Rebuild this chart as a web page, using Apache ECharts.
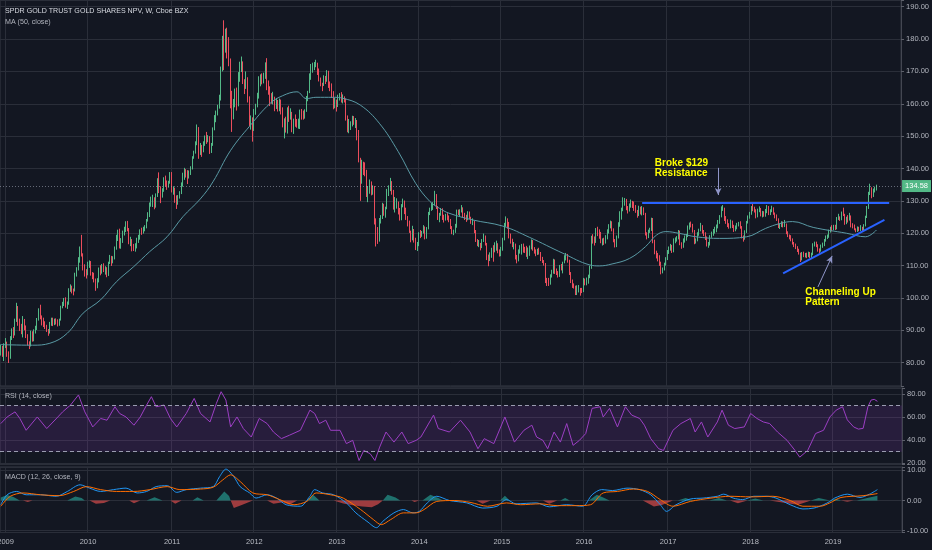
<!DOCTYPE html>
<html><head><meta charset="utf-8">
<script src="https://cdn.jsdelivr.net/npm/echarts@6/dist/echarts.min.js"></script>
<style>html,body{margin:0;padding:0;background:#131722;}#c{width:932px;height:550px;}</style>
</head><body><div id="c"></div>
<script>
// ---- data (weekly bars, week 0 = 2008-12-12) ----
const weekCount = 569;
const yearLabels = ['2009','2010','2011','2012','2013','2014','2015','2016','2017','2018','2019'];
const yearStarts = [3,55,108,160,212,264,316,368,421,473,525];
const lastPrice = 134.58;
// [open, close, low, high]
const candles = [
[83.0,84.6,82.2,85.6],[84.6,83.2,81.8,85.2],[83.2,85.4,80.5,86.0],[85.4,86.2,84.5,87.6],[86.2,82.6,81.8,86.5],[82.6,81.9,79.9,83.5],[81.9,87.8,81.2,88.2],[87.8,89.8,87.0,90.6],[89.8,88.9,87.6,91.0],[88.9,92.9,88.4,93.6],
[92.9,97.3,92.6,98.5],[97.3,92.3,91.4,97.5],[92.3,91.5,89.8,93.6],[91.5,90.2,88.8,92.0],[90.2,93.2,87.8,94.4],[93.2,90.8,90.0,93.5],[90.8,88.5,87.6,91.5],[88.5,85.9,85.3,88.8],[85.9,85.2,84.2,86.6],[85.2,89.6,85.0,89.9],
[89.6,87.0,86.5,89.7],[87.0,89.9,86.6,90.3],[89.9,90.5,89.0,91.4],[90.5,93.3,90.1,93.8],[93.3,96.4,93.0,96.8],[96.4,94.2,93.4,97.9],[94.2,93.1,91.5,94.6],[93.1,91.8,91.0,93.9],[91.8,91.2,90.4,92.8],[91.2,89.9,89.5,91.7],
[89.9,89.4,88.3,90.4],[89.4,92.1,89.0,92.6],[92.1,93.5,91.4,93.9],[93.5,92.2,91.3,93.9],[92.2,93.0,91.6,93.6],[93.0,92.5,91.8,93.7],[92.5,92.0,91.2,93.4],[92.0,93.2,91.4,93.6],[93.2,97.3,93.0,97.6],[97.3,98.1,96.8,98.8],
[98.1,99.6,97.5,100.0],[99.6,97.9,97.0,100.2],[97.9,98.0,96.6,98.9],[98.0,102.5,97.9,103.0],[102.5,103.0,101.9,104.2],[103.0,102.3,101.4,103.8],[102.3,102.2,100.8,102.9],[102.2,107.4,102.0,107.8],[107.4,109.0,106.6,109.5],[109.0,111.7,108.5,112.6],
[111.7,115.4,110.9,115.9],[115.4,113.6,112.8,119.5],[113.6,109.2,108.5,113.8],[109.2,108.3,106.6,110.4],[108.3,107.6,106.0,108.9],[107.6,110.4,107.0,111.2],[110.4,110.7,109.3,111.6],[110.7,107.3,106.9,111.4],[107.3,106.7,105.8,108.0],[106.7,105.9,104.8,107.8],
[105.9,103.5,102.2,106.0],[103.5,105.2,103.0,106.1],[105.2,109.0,104.8,109.4],[109.0,108.1,107.0,110.1],[108.1,110.0,107.5,110.5],[110.0,108.7,108.0,110.7],[108.7,109.0,107.2,109.8],[109.0,107.1,106.4,109.5],[107.1,110.9,106.8,111.2],[110.9,112.8,110.5,113.3],
[112.8,111.4,109.9,113.0],[111.4,112.3,110.7,112.9],[112.3,115.4,111.9,115.9],[115.4,118.9,114.9,119.5],[118.9,120.6,117.6,121.1],[120.6,115.9,115.3,121.4],[115.9,117.7,115.2,118.5],[117.7,119.9,117.0,120.8],[119.9,120.8,119.3,122.0],[120.8,123.0,120.4,123.7],
[123.0,121.3,120.6,123.8],[121.3,117.5,116.6,121.6],[117.5,117.8,116.0,118.9],[117.8,115.9,114.4,118.2],[115.9,115.5,114.5,116.7],[115.5,115.9,114.3,116.9],[115.9,117.9,115.3,118.6],[117.9,118.3,117.0,119.5],[118.3,120.8,118.0,121.2],[120.8,120.2,119.5,121.7],
[120.2,121.5,119.9,122.0],[121.5,121.8,120.6,122.5],[121.8,124.0,121.5,124.4],[124.0,125.4,123.6,126.5],[125.4,129.0,125.0,129.5],[129.0,130.3,128.2,131.3],[130.3,130.7,128.1,131.9],[130.7,128.6,127.4,131.1],[128.6,131.7,127.9,132.3],[131.7,136.4,131.2,137.0],
[136.4,133.3,132.4,138.8],[133.3,131.9,129.3,134.5],[131.9,133.2,131.0,133.9],[133.2,136.1,132.8,137.3],[136.1,135.9,134.4,137.8],[135.9,134.5,133.4,136.3],[134.5,135.6,134.1,136.2],[135.6,138.7,135.3,138.9],[138.7,133.4,132.6,138.9],[133.4,133.6,131.9,134.5],
[133.6,130.0,129.4,134.1],[130.0,129.4,127.5,131.7],[129.4,131.2,128.8,131.8],[131.2,132.6,130.7,133.0],[132.6,135.2,132.1,135.7],[135.2,137.0,134.4,138.7],[137.0,139.1,136.5,140.2],[139.1,138.8,137.2,139.8],[138.8,137.4,135.2,139.5],[137.4,138.7,136.9,139.4],
[138.7,140.0,138.0,140.7],[140.0,143.4,139.7,143.8],[143.4,145.0,143.0,145.5],[145.0,147.5,144.6,148.4],[147.5,152.4,147.2,153.6],[152.4,144.4,143.0,152.8],[144.4,145.9,144.2,147.9],[145.9,145.6,143.6,147.3],[145.6,148.1,145.0,148.4],[148.1,149.1,147.0,150.2],
[149.1,148.9,147.6,151.3],[148.9,149.9,148.1,150.3],[149.9,145.1,144.5,150.0],[145.1,147.4,144.8,147.9],[147.4,152.3,147.0,152.7],[152.3,155.0,151.8,156.5],[155.0,157.2,154.3,157.9],[157.2,159.3,156.4,159.7],[159.3,161.4,158.5,162.8],[161.4,170.6,161.0,171.5],
[170.6,180.3,170.0,181.0],[180.3,176.5,170.4,185.8],[176.5,182.5,175.8,183.2],[182.5,180.0,174.0,183.5],[180.0,173.0,171.6,180.6],[173.0,159.9,158.6,174.0],[159.9,158.4,151.3,164.0],[158.4,160.1,155.2,161.5],[160.1,163.9,158.9,164.7],[163.9,159.5,157.9,165.0],
[159.5,169.0,159.2,169.8],[169.0,171.9,166.8,173.0],[171.9,172.6,169.8,174.6],[172.6,167.0,166.1,173.1],[167.0,165.8,163.0,167.6],[165.8,167.5,164.6,170.0],[167.5,161.8,160.4,168.2],[161.8,154.0,153.0,162.3],[154.0,155.4,152.0,156.4],[155.4,152.0,148.3,155.8],
[152.0,157.4,151.6,158.4],[157.4,159.6,156.6,160.0],[159.6,162.7,158.9,163.4],[162.7,168.1,161.6,168.5],[168.1,168.1,165.4,169.1],[168.1,167.9,166.0,169.4],[167.9,168.4,166.3,169.6],[168.4,172.3,167.7,172.8],[172.3,165.6,164.2,174.1],[165.6,164.2,162.8,167.2],
[164.2,161.8,159.3,165.4],[161.8,160.9,160.0,163.3],[160.9,161.7,159.8,163.7],[161.7,159.6,157.7,162.2],[159.6,160.8,158.4,161.8],[160.8,158.1,157.6,161.2],[158.1,160.8,157.7,161.6],[160.8,158.3,156.7,161.3],[158.3,153.9,152.7,158.9],[153.9,154.1,149.3,155.5],
[154.1,152.4,151.1,156.0],[152.4,158.5,150.8,158.9],[158.5,155.4,154.4,159.4],[155.4,157.3,155.1,158.6],[157.3,151.9,151.2,157.5],[151.9,155.0,150.7,155.4],[155.0,153.7,152.9,156.7],[153.7,153.6,152.6,155.3],[153.6,153.6,152.3,155.4],[153.6,157.7,152.2,158.2],
[157.7,156.6,155.1,158.4],[156.6,156.0,155.1,157.9],[156.0,157.7,155.4,158.3],[157.7,161.5,157.5,162.4],[161.5,163.5,160.8,164.0],[163.5,168.9,163.3,169.4],[168.9,171.6,167.4,172.3],[171.6,171.7,169.6,172.7],[171.7,171.9,170.4,172.9],[171.9,172.3,171.3,173.6],
[172.3,170.4,168.9,172.7],[170.4,167.8,166.9,170.9],[167.8,166.2,165.4,168.1],[166.2,166.0,163.9,166.5],[166.0,168.0,165.5,168.8],[168.0,167.4,166.1,168.6],[167.4,169.8,166.8,170.4],[169.8,165.8,164.9,170.2],[165.8,165.1,163.9,166.9],[165.1,163.5,161.8,166.3],
[163.5,159.1,158.3,163.9],[159.1,160.6,158.6,161.8],[160.6,159.5,157.6,161.3],[159.5,161.8,159.0,162.8],[161.8,162.7,161.0,163.3],[162.7,161.0,160.4,163.6],[161.0,161.7,160.1,162.9],[161.7,161.4,160.4,162.3],[161.4,155.6,154.8,161.6],[155.6,152.7,151.2,156.4],
[152.7,152.9,150.9,155.3],[152.9,153.3,151.9,154.6],[153.3,155.6,153.0,156.3],[155.6,154.3,153.5,156.2],[154.3,154.3,152.5,155.6],[154.3,150.0,148.7,155.0],[150.0,142.9,141.9,151.9],[142.9,135.7,130.0,143.3],[135.7,141.2,135.3,142.7],[141.2,141.1,138.0,142.1],
[141.1,138.7,137.6,141.9],[138.7,132.1,131.2,139.6],[132.1,134.0,129.6,134.6],[134.0,134.6,132.2,136.6],[134.6,132.4,131.7,136.0],[132.4,134.2,131.9,134.8],[134.2,123.5,122.7,134.6],[123.5,119.1,115.9,124.6],[119.1,117.9,116.7,121.9],[117.9,123.5,117.4,124.7],
[123.5,124.6,123.0,125.6],[124.6,128.4,124.4,129.4],[128.4,126.5,125.4,129.1],[126.5,127.8,124.8,128.2],[127.8,132.9,127.4,133.7],[132.9,134.1,131.5,134.8],[134.1,135.4,133.0,137.1],[135.4,133.0,131.9,136.1],[133.0,127.9,127.3,133.4],[127.9,129.0,126.4,131.2],
[129.0,129.3,127.6,130.8],[129.3,127.1,125.8,129.8],[127.1,124.9,123.9,127.8],[124.9,128.6,124.0,129.0],[128.6,129.7,128.0,130.7],[129.7,126.6,125.9,130.1],[126.6,124.6,124.1,127.9],[124.6,123.4,122.1,125.3],[123.4,120.4,120.1,123.9],[120.4,119.0,117.2,120.8],
[119.0,119.7,117.8,122.3],[119.7,117.8,117.1,121.3],[117.8,116.3,114.8,118.6],[116.3,116.4,114.5,117.3],[116.4,119.8,116.0,120.3],[119.8,119.5,118.5,121.0],[119.5,120.0,118.9,120.7],[120.0,121.7,119.9,122.5],[121.7,119.5,118.1,122.1],[119.5,121.4,118.3,121.9],
[121.4,126.3,121.2,126.6],[126.3,127.2,125.6,127.9],[127.2,128.1,126.9,129.4],[128.1,129.1,127.2,129.6],[129.1,132.0,128.6,133.1],[132.0,128.1,127.5,132.1],[128.1,124.9,124.1,128.4],[124.9,125.9,123.4,126.3],[125.9,127.1,125.4,127.8],[127.1,124.9,124.1,127.7],
[124.9,124.4,123.3,125.7],[124.4,125.0,123.9,126.0],[125.0,124.8,124.0,126.2],[124.8,124.2,123.4,125.5],[124.2,121.9,121.3,124.4],[121.9,120.0,119.7,122.2],[120.0,120.3,119.4,121.1],[120.3,122.5,120.1,122.9],[122.5,126.9,121.7,127.3],[126.9,126.4,125.6,127.3],
[126.4,126.8,125.2,127.4],[126.8,127.9,126.4,128.7],[127.9,125.9,124.9,128.0],[125.9,125.0,124.1,126.3],[125.0,124.5,123.5,125.7],[124.5,126.1,124.0,126.8],[126.1,125.0,124.4,126.7],[125.0,123.5,122.9,125.1],[123.5,123.6,122.5,124.6],[123.6,120.8,120.0,123.8],
[120.8,117.9,117.3,121.0],[117.9,116.6,116.0,118.2],[116.6,116.9,115.7,117.9],[116.9,115.9,114.7,117.0],[115.9,117.7,115.4,118.2],[117.7,119.0,117.3,119.9],[119.0,116.7,116.2,119.3],[116.7,112.3,111.7,117.0],[112.3,112.2,109.8,113.4],[112.2,113.0,111.4,114.1],
[113.0,114.9,112.4,115.5],[114.9,114.8,111.2,116.3],[114.8,115.2,114.1,117.2],[115.2,116.6,114.6,117.7],[116.6,114.5,113.8,116.9],[114.5,113.7,112.8,115.0],[113.7,115.0,112.9,115.8],[115.0,118.2,114.6,118.6],[118.2,122.7,117.8,123.2],[122.7,123.9,122.0,125.2],
[123.9,122.3,121.4,124.6],[122.3,119.2,118.4,123.5],[119.2,117.6,116.8,119.9],[117.6,116.1,115.7,118.3],[116.1,116.1,115.0,117.3],[116.1,112.6,111.9,116.8],[112.6,111.5,110.7,113.3],[111.5,114.7,111.3,115.0],[114.7,114.7,113.7,116.3],[114.7,116.1,113.4,116.7],
[116.1,115.1,114.0,116.8],[115.1,114.5,113.9,115.8],[114.5,113.2,112.7,116.1],[113.2,113.3,112.0,115.6],[113.3,115.5,113.0,116.2],[115.5,117.6,115.0,118.1],[117.6,115.1,114.6,117.9],[115.1,114.8,113.7,115.7],[114.8,113.8,112.9,115.0],[113.8,114.3,113.3,115.2],
[114.3,114.1,113.4,115.5],[114.1,112.0,111.4,114.2],[112.0,111.3,110.8,112.7],[111.3,110.6,110.0,111.7],[110.6,105.5,104.6,110.8],[105.5,104.8,103.7,106.2],[104.8,104.6,103.7,106.2],[104.6,106.9,104.1,107.3],[106.9,107.8,106.3,108.7],[107.8,111.6,107.5,112.1],
[111.6,108.7,107.4,111.9],[108.7,107.9,107.1,109.1],[107.9,106.9,106.3,108.3],[106.9,109.6,106.5,110.2],[109.6,109.0,108.5,110.5],[109.0,110.9,107.6,111.2],[110.9,112.4,110.7,113.2],[112.4,112.9,111.6,113.9],[112.9,111.4,110.9,113.6],[111.4,107.7,107.1,111.8],
[107.7,105.1,104.6,108.0],[105.1,103.7,103.1,105.7],[103.7,103.6,102.9,104.5],[103.6,101.3,100.9,103.8],[101.3,102.8,100.9,103.9],[102.8,102.8,101.7,104.0],[102.8,102.3,100.7,103.1],[102.3,102.2,101.5,103.1],[102.2,105.8,101.8,106.2],[105.8,104.7,103.9,106.0],
[104.7,105.2,103.9,106.3],[105.2,106.6,104.4,107.2],[106.6,109.5,106.1,110.0],[109.5,118.6,109.0,119.2],[118.6,117.9,116.8,119.7],[117.9,117.5,116.2,119.0],[117.5,120.6,117.0,121.6],[120.6,120.2,119.1,122.0],[120.2,119.3,118.3,121.2],[119.3,117.5,116.9,120.4],
[117.5,117.9,116.2,118.4],[117.9,117.1,116.4,118.6],[117.1,118.6,116.8,119.4],[118.6,120.7,118.1,121.2],[120.7,122.2,119.9,122.8],[122.2,123.0,121.5,123.9],[123.0,121.2,120.6,123.7],[121.2,117.9,117.2,121.5],[117.9,116.1,115.6,118.2],[116.1,118.8,115.7,119.3],
[118.8,122.8,118.4,123.4],[122.8,125.0,122.0,126.8],[125.0,127.4,124.2,127.9],[127.4,129.2,126.8,131.1],[129.2,130.3,128.5,130.9],[130.3,127.6,127.1,130.6],[127.6,127.2,126.1,128.4],[127.2,128.3,126.7,129.2],[128.3,129.7,127.9,130.4],[129.7,128.7,127.8,130.0],
[128.7,127.8,126.9,129.8],[127.8,127.0,126.3,128.7],[127.0,125.7,124.8,127.2],[125.7,128.0,125.3,128.5],[128.0,126.3,125.8,128.2],[126.3,127.9,125.5,128.4],[127.9,126.1,125.6,128.0],[126.1,119.9,119.3,126.3],[119.9,119.0,118.1,120.3],[119.0,120.7,118.5,121.1],
[120.7,121.2,120.1,121.7],[121.2,124.1,120.7,124.8],[124.1,117.8,116.9,124.7],[117.8,114.1,113.5,118.0],[114.1,113.4,112.2,114.6],[113.4,112.9,111.3,113.9],[112.9,110.6,109.9,113.2],[110.6,108.2,107.3,111.2],[108.2,108.9,107.6,109.4],[108.9,110.5,108.5,110.9],
[110.5,112.1,110.0,112.6],[112.1,114.2,111.7,114.8],[114.2,115.2,113.6,115.9],[115.2,116.0,114.6,116.7],[116.0,114.4,113.9,116.4],[114.4,117.9,114.1,118.4],[117.9,118.0,116.9,118.7],[118.0,118.6,117.4,119.1],[118.6,120.6,118.1,121.0],[120.6,116.8,116.3,120.8],
[116.8,115.8,115.2,117.2],[115.8,117.9,115.5,118.4],[117.9,118.4,117.1,119.3],[118.4,119.2,117.7,119.8],[119.2,121.6,118.8,122.4],[121.6,122.8,121.1,123.3],[122.8,122.4,121.8,123.6],[122.4,120.8,120.2,122.9],[120.8,117.1,116.6,121.0],[117.1,117.9,116.8,118.4],
[117.9,119.7,117.5,120.3],[119.7,121.0,119.2,121.4],[121.0,122.3,120.6,123.2],[122.3,120.5,119.9,122.5],[120.5,119.7,119.1,121.0],[119.7,118.9,117.9,120.3],[118.9,116.3,115.9,119.0],[116.3,116.6,115.5,117.3],[116.6,118.9,116.2,119.4],[118.9,119.9,118.6,120.5],
[119.9,120.8,119.2,121.3],[120.8,121.3,119.9,122.0],[121.3,122.0,120.3,122.7],[122.0,123.4,121.5,124.1],[123.4,125.2,122.9,125.6],[125.2,127.5,124.9,128.3],[127.5,127.8,126.9,128.7],[127.8,124.3,123.8,127.9],[124.3,123.9,122.9,125.3],[123.9,122.5,121.9,124.3],
[122.5,121.9,121.4,123.1],[121.9,123.4,121.5,124.2],[123.4,122.1,121.6,123.9],[122.1,121.1,120.4,122.6],[121.1,121.6,120.6,122.4],[121.6,122.7,121.2,123.2],[122.7,123.0,122.1,123.5],[123.0,121.8,121.4,123.7],[121.8,118.9,118.4,122.2],[118.9,118.3,117.4,119.3],
[118.3,120.4,118.0,120.9],[120.4,123.4,120.1,123.8],[123.4,125.2,123.0,125.5],[125.2,126.3,124.5,126.6],[126.3,127.9,125.7,128.4],[127.9,127.3,126.8,129.5],[127.3,127.0,126.4,128.2],[127.0,125.5,124.6,127.4],[125.5,126.9,124.9,127.6],[126.9,127.6,126.5,128.3],
[127.6,125.6,125.2,127.8],[125.6,126.3,124.9,126.9],[126.3,125.5,125.1,126.8],[125.5,126.7,125.1,127.5],[126.7,128.1,126.2,128.7],[128.1,126.0,125.6,128.4],[126.0,126.9,125.6,127.4],[126.9,127.8,126.5,128.5],[127.8,126.1,125.7,128.0],[126.1,125.2,124.6,126.4],
[125.2,124.5,123.8,125.8],[124.5,122.0,121.6,124.6],[122.0,122.4,121.3,123.0],[122.4,123.2,121.9,123.7],[123.2,122.4,121.8,123.6],[122.4,122.8,121.9,124.1],[122.8,120.4,119.7,123.0],[120.4,119.3,118.8,120.6],[119.3,118.9,118.1,119.6],[118.9,118.2,117.5,119.4],
[118.2,116.9,116.5,118.4],[116.9,116.4,115.7,117.3],[116.4,115.7,115.1,116.8],[115.7,114.7,114.2,116.0],[114.7,113.9,113.4,115.2],[113.9,112.0,111.1,114.0],[112.0,113.8,111.6,114.2],[113.8,113.2,112.6,114.3],[113.2,113.4,112.5,113.9],[113.4,113.0,112.3,114.0],
[113.0,113.8,112.6,114.3],[113.8,112.8,112.3,114.2],[112.8,113.5,112.4,114.0],[113.5,116.5,113.2,116.9],[116.5,116.8,115.9,117.4],[116.8,116.2,115.7,117.4],[116.2,114.9,114.3,116.6],[114.9,114.6,113.9,115.3],[114.6,115.9,114.3,116.5],[115.9,116.3,115.5,117.1],
[116.3,117.8,116.0,118.2],[117.8,118.6,117.4,119.3],[118.6,119.0,118.2,119.6],[119.0,120.6,118.6,121.1],[120.6,121.3,120.2,122.0],[121.3,121.2,120.6,122.5],[121.2,122.1,120.9,122.6],[122.1,121.5,121.0,122.6],[121.5,124.8,121.2,125.0],[124.8,124.9,124.1,126.0],
[124.9,124.4,123.8,125.2],[124.4,126.1,124.0,126.7],[126.1,125.8,125.3,127.9],[125.8,123.1,122.6,126.0],[123.1,124.6,122.8,125.1],[124.6,124.4,123.3,125.6],[124.4,125.3,123.9,126.3],[125.3,122.4,121.8,125.5],[122.4,122.3,121.5,123.1],[122.3,121.1,120.9,122.7],
[121.1,120.8,120.3,121.5],[120.8,121.6,120.4,122.1],[121.6,121.1,120.6,122.0],[121.1,121.5,120.7,122.5],[121.5,121.2,120.7,122.0],[121.2,122.4,120.8,122.8],[122.4,125.0,122.1,125.4],[125.0,127.9,124.7,128.4],[127.9,132.2,127.5,132.8],[132.2,133.7,131.8,135.3],
[133.7,131.6,130.8,134.2],[131.6,133.3,131.2,133.8],[133.3,133.9,132.6,134.4],[133.9,134.58,133.2,135.0]
];
// MA(50, close) read at points [weekIndex, value]
const maPoints = [[0,85.6],[6,85.5],[20,85.4],[31,86.0],[42,89.1],[52,95.3],[63,99.4],[73,105.0],[84,109.7],[94,114.3],[105,118.9],[115,125.1],[126,130.6],[134,135.9],[145,145.5],[157,153.0],[170,160.1],[178,162.5],[187,163.7],[193,161.6],[199,162.0],[210,162.0],[216,161.7],[227,159.6],[239,154.0],[251,145.2],[262,135.4],[271,129.8],[277,127.7],[283,126.2],[298,124.1],[317,122.2],[334,118.7],[355,113.8],[372,110.2],[378,109.9],[386,110.5],[397,112.2],[407,115.8],[414,119.4],[420,120.5],[428,120.0],[439,118.9],[454,118.4],[471,118.9],[483,121.5],[492,123.0],[500,123.6],[513,121.8],[534,120.0],[546,118.9],[553,121.0]];
// RSI(14)
const rsiPoints = [[0,54.3],[4,60],[9,64.4],[12,58.7],[16,48.5],[23,60],[29,50],[36,60],[39,64.4],[44,70.3],[49,79],[53,64.4],[58,51.4],[63,58.7],[67,57.2],[72,68.8],[75,63],[79,60],[84,52.9],[88,60],[92,70.3],[95,77.5],[98,68.8],[103,70.3],[107,58.7],[111,51.4],[117,63],[122,76],[126,63],[132,55.7],[136,71.7],[139,81.8],[142,74.6],[145,51.4],[149,60],[153,50],[158,42.7],[163,58.7],[168,54.3],[172,47],[177,41.3],[182,44.2],[189,48.5],[195,65.9],[198,63],[201,54.3],[205,57.2],[208,48.5],[214,48.5],[218,37],[222,39.8],[226,22.4],[229,31.1],[233,28.3],[236,22.4],[239,34],[243,47],[248,38.3],[253,47],[257,37],[262,39.8],[265,42.7],[273,61.6],[276,50],[283,47],[290,57.2],[296,47],[301,32.6],[305,41.3],[311,37],[318,60],[324,38.3],[330,48.5],[335,52.9],[338,42.7],[342,39.8],[345,32.6],[349,47],[353,38.3],[357,54.3],[361,35.5],[365,39.8],[369,45.7],[373,67.4],[378,68.8],[380,60],[384,67.4],[389,51.4],[394,68.8],[398,61.6],[403,58.7],[406,52.9],[410,41.3],[415,32.6],[418,31.1],[424,48.5],[429,54.3],[435,58.7],[438,47],[442,55.7],[446,42.7],[452,55.7],[455,65.9],[459,52.9],[463,50],[469,51.4],[473,63],[477,58.7],[481,55.7],[485,54.3],[490,47],[496,39.8],[501,31.1],[504,25.3],[509,31.1],[514,45.7],[519,48.5],[523,60],[527,65.9],[531,68.8],[534,57.5],[538,51.4],[541,49.5],[544,50.2],[547,68.8],[549,74.6],[551,75.2],[553,73.5]];
// MACD(12,26,9)
const macdPoints = [[0,-1.4],[4,1.9],[10,3.0],[16,1.9],[25,1.9],[35,1.4],[42,3.0],[50,5.2],[56,4.1],[63,3.0],[71,3.6],[79,4.1],[86,2.5],[92,3.0],[98,4.6],[105,4.9],[111,2.7],[117,3.6],[126,4.1],[134,4.6],[138,7.9],[142,10.4],[147,7.9],[151,4.6],[157,2.5],[161,0.8],[168,1.9],[174,0.8],[180,-1.4],[189,-1.9],[195,1.4],[198,3.6],[203,2.5],[210,1.9],[218,-0.8],[224,-4.1],[231,-6.9],[237,-9.0],[241,-6.9],[248,-4.1],[254,-3.0],[260,-4.1],[264,-3.6],[269,-0.8],[275,1.4],[283,0],[294,-0.8],[304,-2.5],[313,-1.9],[319,0.3],[325,-1.1],[338,-0.8],[346,-2.1],[357,-1.4],[367,-1.9],[373,1.9],[379,3.6],[386,3.3],[395,4.1],[403,3.6],[410,1.9],[416,-1.4],[420,-3.6],[426,-1.4],[435,0.5],[443,0.8],[452,1.4],[456,2.1],[462,0.8],[468,0.3],[475,1.4],[483,1.4],[489,0.8],[498,-1.4],[506,-2.8],[513,-2.5],[519,-1.4],[523,-0.3],[526,0.8],[534,2.1],[542,1.0],[548,2.1],[553,3.6]];
const signalPoints = [[0,-1.9],[6,1.4],[14,2.5],[25,1.9],[37,1.6],[46,3.0],[54,4.6],[63,3.6],[73,3.0],[84,3.0],[94,3.6],[105,4.6],[113,3.6],[126,3.8],[134,4.4],[140,6.8],[145,8.5],[151,6.3],[159,2.5],[168,1.9],[176,0.3],[185,-1.4],[193,-0.3],[199,2.5],[208,1.9],[216,0.8],[227,-3.0],[235,-6.3],[240,-8.0],[246,-6.3],[254,-4.1],[262,-4.1],[267,-3.0],[275,-0.3],[286,0],[296,-0.6],[307,-1.9],[319,-0.8],[328,-1.4],[340,-1.1],[351,-1.7],[363,-1.7],[372,-1.4],[380,2.5],[389,3.0],[399,3.8],[408,3.0],[416,0.3],[424,-1.9],[435,-0.3],[448,0.8],[460,1.4],[473,1.2],[487,1.4],[498,0],[506,-1.9],[517,-1.9],[523,-0.8],[530,1.0],[544,1.6],[553,2.3]];
// MACD histogram humps
const histUp = [[0,1.0],[4,1.8],[8,1.2],[12,0],[42,0],[47,1.3],[51,0.8],[53,0],[92,0],[97,1.1],[102,0],[121,0],[124,1.1],[128,0],[136,0],[141,3.0],[144,1.5],[145,0],[193,0],[197,1.9],[201,0],[241,0],[244,1.9],[249,1.0],[252,0],[266,0],[271,1.9],[276,0.8],[279,0],[315,0],[318,1.6],[321,0],[353,0],[356,0.8],[359,0],[371,0],[376,1.9],[380,1.0],[384,0],[427,0],[432,0.8],[437,0],[447,0],[453,0.8],[458,0],[471,0],[476,0.7],[481,0],[511,0],[516,0.8],[523,0],[524,0],[527,0.6],[530,0],[540,0],[548,1.0],[553,1.6]];
const histDown = [[14,0],[17,-0.5],[20,0],[56,0],[60,-1.1],[65,-0.8],[69,0],[81,0],[84,-0.9],[88,0],[107,0],[110,-1.1],[114,0],[145,0],[147,-2.5],[152,-1.5],[159,0],[168,0],[172,-1.1],[178,-0.6],[182,-1.4],[187,0],[210,0],[216,-1.0],[222,-1.6],[228,-2.0],[234,-2.2],[238,-1.2],[241,0],[259,0],[261,-0.5],[264,0],[300,0],[304,-1.1],[309,0],[342,0],[346,-1.1],[351,0],[405,0],[412,-2.0],[417,-1.5],[424,0],[460,0],[465,-0.9],[471,0],[485,0],[495,-0.8],[503,-1.4],[511,0],[530,0],[534,-0.4],[538,0]];

// ---- chart ----
const weeks = Array.from({length: weekCount}, (_, i) => i);
const font = "'Liberation Sans', Arial, sans-serif";
const gridColor = '#2a2e39';
const isYear = i => yearStarts.indexOf(i) >= 0;
const isMult = (v, m) => Math.abs(v - Math.round(v / m) * m) < 1e-6;

function xAxisFor(gi) {
  return {
    type: 'category', gridIndex: gi, data: weeks, boundaryGap: true,
    axisLine: {show: false}, axisTick: {show: false}, axisLabel: {show: false},
    splitLine: {show: true, interval: (i) => isYear(i), lineStyle: {color: gridColor, width: 1}}
  };
}
function yAxisFor(gi, min, max, split, step) {
  return {
    type: 'value', gridIndex: gi, position: 'right', min: min, max: max, splitNumber: split,
    axisLine: {show: true, lineStyle: {color: '#434651'}},
    axisTick: {show: true, length: 3, lineStyle: {color: '#5d606b'}},
    axisLabel: {color: '#b2b5be', fontSize: 7.5, fontFamily: font, margin: 5,
      formatter: v => isMult(v, step) ? Number(v).toFixed(2) : ''},
    splitLine: {show: true, lineStyle: {color: gridColor}}
  };
}
const gridBase = {left: 0, right: 30, show: true, borderColor: '#363a45', borderWidth: 1, backgroundColor: 'transparent'};
const annoBlue = '#2962ff';
const arrowCol = '#8f95c8';
const txt = (id, t, top, fill) => ({type: 'text', id: id, left: 5, top: top, z: 100, silent: true,
  style: {text: t, fill: fill, fontSize: 7.1, fontFamily: font}});
const legendTexts = [
  txt('t0', 'SPDR GOLD TRUST GOLD SHARES NPV, W, Cboe BZX', 7.5, '#d8dbe2'),
  txt('t1', 'MA (50, close)', 19, '#b2b5be'),
  txt('t2', 'RSI (14, close)', 393, '#b2b5be'),
  txt('t3', 'MACD (12, 26, close, 9)', 474, '#b2b5be')
];

const option = {
  backgroundColor: '#131722',
  animation: false,
  grid: [
    Object.assign({top: 0, height: 386}, gridBase),
    Object.assign({top: 388, height: 76}, gridBase),
    Object.assign({top: 467, height: 65.5}, gridBase)
  ],
  xAxis: [xAxisFor(0), xAxisFor(1), xAxisFor(2)],
  yAxis: [yAxisFor(0, 72.79, 192.07, 12, 10), yAxisFor(1, 19.4, 85, 3, 20), yAxisFor(2, -10.6, 11.1, 2, 10)],
  graphic: legendTexts,
  series: [
    {
      type: 'candlestick', xAxisIndex: 0, yAxisIndex: 0, data: candles,
      itemStyle: {color: '#53b987', color0: '#eb4d5c', borderColor: '#53b987', borderColor0: '#eb4d5c', borderWidth: 1},
      markLine: {
        silent: true, animation: false, symbol: ['none', 'none'], label: {show: false},
        data: [
          {yAxis: lastPrice, lineStyle: {color: 'rgba(170,175,190,0.55)', type: [1, 2], width: 1},
            label: {show: true, position: 'end', distance: 1, formatter: lastPrice.toFixed(2), color: '#ffffff',
              backgroundColor: '#53b987', padding: [2, 3, 2, 3], fontSize: 7.5, fontFamily: font}},
          [{coord: [405, 129.4], lineStyle: {color: annoBlue, width: 2, type: 'solid'}}, {coord: [561, 129.4]}],
          [{coord: [494, 107.6], lineStyle: {color: annoBlue, width: 2, type: 'solid'}}, {coord: [558, 124.1]}],
          [{coord: [453, 140.2], symbol: 'none', lineStyle: {color: arrowCol, width: 1, type: 'solid'}}, {coord: [453, 131.8], symbol: 'arrow', symbolSize: [5, 7]}],
          [{coord: [516, 103.4], symbol: 'none', lineStyle: {color: arrowCol, width: 1, type: 'solid'}}, {coord: [525, 113.0], symbol: 'arrow', symbolSize: [5, 7]}]
        ]
      },
      markPoint: {
        silent: true, animation: false, symbol: 'circle', symbolSize: 0,
        label: {show: true, position: 'right', distance: 0, color: '#ffff00', fontWeight: 'bold', fontSize: 10, lineHeight: 10, fontFamily: font},
        data: [
          {coord: [413, 140.2], label: {formatter: 'Broke $129\nResistance'}},
          {coord: [508, 100.2], label: {formatter: 'Channeling Up\nPattern'}}
        ]
      }
    },
    {
      type: 'line', xAxisIndex: 0, yAxisIndex: 0, data: maPoints, smooth: 0.4, showSymbol: false,
      lineStyle: {color: '#5a9aa5', width: 1}, z: 3
    },
    {
      type: 'line', xAxisIndex: 1, yAxisIndex: 1, data: rsiPoints, showSymbol: false,
      lineStyle: {color: '#9c3fc4', width: 1},
      markArea: {silent: true, itemStyle: {color: 'rgba(150,60,200,0.16)'}, data: [[{yAxis: 30}, {yAxis: 70}]]},
      markLine: {silent: true, symbol: ['none', 'none'], label: {show: false},
        lineStyle: {color: '#9a9cb0', type: [4, 3], width: 1}, data: [{yAxis: 70}, {yAxis: 30}]}
    },
    {
      type: 'line', xAxisIndex: 2, yAxisIndex: 2, data: histUp, showSymbol: false,
      lineStyle: {width: 0, color: '#26a69a'}, areaStyle: {color: 'rgba(38,166,154,0.9)'}
    },
    {
      type: 'line', xAxisIndex: 2, yAxisIndex: 2, data: histDown, showSymbol: false,
      lineStyle: {width: 0, color: '#ef5350'}, areaStyle: {color: 'rgba(239,83,80,0.9)'}
    },
    {
      type: 'line', xAxisIndex: 2, yAxisIndex: 2, data: macdPoints, smooth: 0.3, showSymbol: false,
      lineStyle: {color: '#2196f3', width: 1}, z: 4
    },
    {
      type: 'line', xAxisIndex: 2, yAxisIndex: 2, data: signalPoints, smooth: 0.3, showSymbol: false,
      lineStyle: {color: '#ff6d00', width: 1}, z: 4
    }
  ]
};
const chart = echarts.init(document.getElementById('c'));
chart.setOption(option);
// year labels centred on their gridlines, positioned through the category axis
const yearTexts = yearStarts.map((idx, k) => ({
  type: 'text', id: 'yr' + k, z: 100, silent: true,
  x: chart.convertToPixel({xAxisIndex: 2}, idx), y: 542,
  style: {text: yearLabels[k], fill: '#b8bbc3', fontSize: 7.5, fontFamily: font, align: 'center', verticalAlign: 'middle'}
}));
chart.setOption({graphic: legendTexts.concat(yearTexts)});
</script>
</body></html>
